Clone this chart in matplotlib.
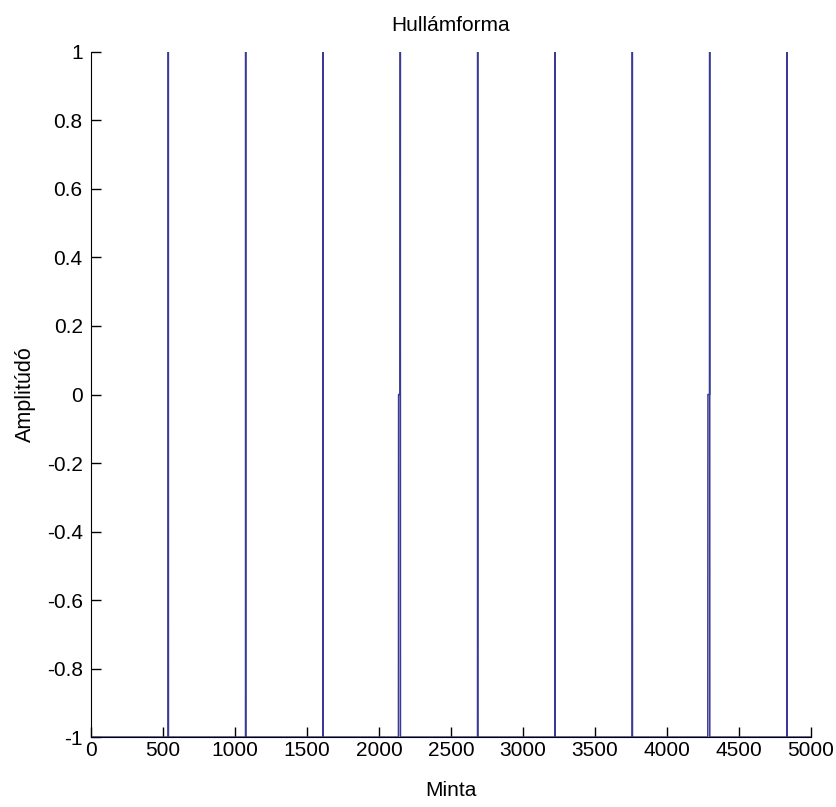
import numpy as np
import matplotlib
matplotlib.use("Agg")
from matplotlib import pyplot as plt

# pulse train: sample index of each pulse, total number of samples
n_samples = 5000
pulse_idx = [537, 1074, 1611, 2148, 2685, 3222, 3759, 4296, 4833]
# pulses whose rising edge holds at 0 for a few samples before reaching 1
half_step_idx = [2148, 4296]
half_step_len = 12

x_ticks = [0, 500, 1000, 1500, 2000, 2500, 3000, 3500, 4000, 4500, 5000]
y_ticks = [-1, -0.8, -0.6, -0.4, -0.2, 0, 0.2, 0.4, 0.6, 0.8, 1]
y_tick_labels = ["-1", "-0.8", "-0.6", "-0.4", "-0.2", "0", "0.2", "0.4", "0.6", "0.8", "1"]

signal = -np.ones(n_samples)
for k in pulse_idx:
    signal[k] = 1.0
for k in half_step_idx:
    signal[k - half_step_len:k] = 0.0

plt.rcParams["font.family"] = ["Liberation Sans", "DejaVu Sans"]
plt.rcParams["axes.unicode_minus"] = False

fig = plt.figure(figsize=(8.37, 8.07), dpi=100)
ax = fig.add_axes([0.1087, 0.0867, 0.8603, 0.8489])

ax.plot(np.arange(n_samples), signal, color="#3a3a94", linewidth=1.1)

ax.set_xlim(0, 5000)
ax.set_ylim(-1, 1)
ax.set_xticks(x_ticks)
ax.set_xticklabels([str(t) for t in x_ticks])
ax.set_yticks(y_ticks)
ax.set_yticklabels(y_tick_labels)

ax.spines["top"].set_visible(False)
ax.spines["right"].set_visible(False)
ax.tick_params(direction="in", length=7, width=1, labelsize=15, color="black")
ax.tick_params(axis="x", pad=3)
ax.tick_params(axis="y", pad=6)

ax.set_title("Hullámforma", fontsize=15, pad=15)
ax.set_xlabel("Minta", fontsize=15, labelpad=15)
ax.set_ylabel("Amplitúdó", fontsize=15.5, labelpad=8)

fig.savefig("out.png", dpi=100)
